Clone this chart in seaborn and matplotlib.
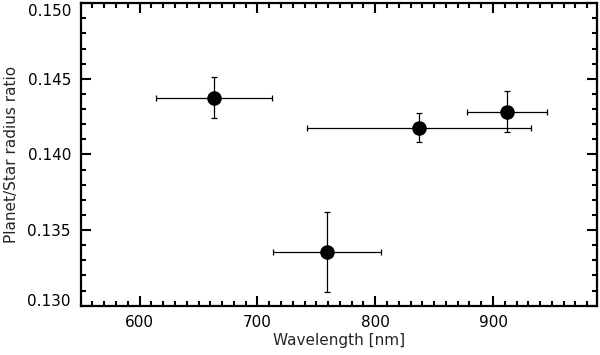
import numpy as np
import pandas as pd
import matplotlib
matplotlib.use("Agg")
import matplotlib.pyplot as plt
import matplotlib.transforms as mtransforms
import seaborn as sns
from matplotlib.ticker import MultipleLocator, FormatStrFormatter

# ---------------------------
# Data
# ---------------------------
wavelength = [663, 759, 837.5, 912]
wl_err = [49.5, 45.5, 95, 34]
ratio = [0.14376, 0.13357, 0.14177, 0.14283]
ratio_err = [0.00135, 0.00265, 0.00095, 0.00137]

df = pd.DataFrame({"wavelength": wavelength, "ratio": ratio})

# ---------------------------
# Style
# ---------------------------
sns.set_style("ticks")
plt.rcParams["font.family"] = ["DejaVu Sans"]

fig = plt.figure(figsize=(6, 3.55), dpi=100)
ax = fig.add_axes([0.1345, 0.139, 0.86, 0.852])

ax.errorbar(df["wavelength"], df["ratio"], xerr=wl_err, yerr=ratio_err,
            fmt="none", ecolor="black", elinewidth=0.9, capsize=2,
            capthick=0.9, zorder=2)
sns.scatterplot(data=df, x="wavelength", y="ratio", ax=ax, color="black",
                s=110, edgecolor="black", linewidth=0, zorder=3)

ax.set_xlim(550, 988)
ax.set_ylim(0.130, 0.150)
ax.xaxis.set_major_locator(MultipleLocator(100))
ax.xaxis.set_minor_locator(MultipleLocator(10))
ax.yaxis.set_major_locator(MultipleLocator(0.005))
ax.yaxis.set_minor_locator(MultipleLocator(0.001))
ax.yaxis.set_major_formatter(FormatStrFormatter("%.3f"))

ax.tick_params(which="both", direction="in", top=True, right=True,
               width=1.5, labelsize=11, colors="black")
ax.tick_params(which="major", length=7, pad=7)
ax.tick_params(which="minor", length=3.5)
for s in ax.spines.values():
    s.set_linewidth(1.6)
    s.set_color("black")

ax.set_xlabel("Wavelength [nm]", fontsize=11, labelpad=2)
ax.set_ylabel("Planet/Star radius ratio", fontsize=11, labelpad=6)

# keep the end labels inside the axis range, like the original
fig.canvas.draw()
yticks = ax.yaxis.get_major_ticks()
down = mtransforms.ScaledTranslation(0, -5 / 72, fig.dpi_scale_trans)
up = mtransforms.ScaledTranslation(0, 4 / 72, fig.dpi_scale_trans)
for t in yticks:
    v = t.get_loc()
    if abs(v - 0.150) < 1e-6:
        t.label1.set_transform(t.label1.get_transform() + down)
    elif abs(v - 0.130) < 1e-6:
        t.label1.set_transform(t.label1.get_transform() + up)

fig.savefig("out.png", dpi=100)
